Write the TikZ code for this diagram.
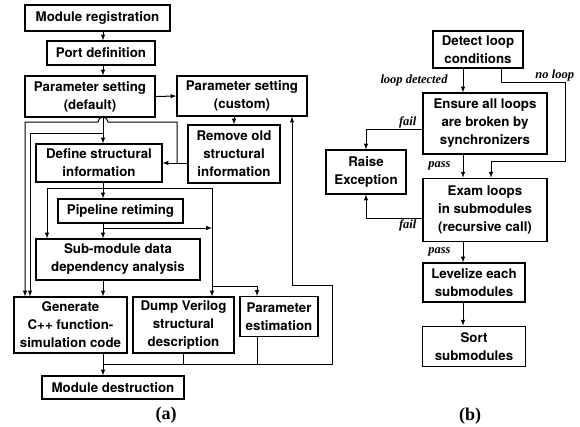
\documentclass[tikz,border=0pt]{standalone}
\usepackage{fontspec}
\usepackage{tikz}
\usetikzlibrary{positioning, arrows, calc}

\newfontfamily\boxfont{TeX Gyre Heros}
\newfontfamily\lblfont{Liberation Serif}

\begin{document}
\begin{tikzpicture}[x=1pt, y=-1pt, >=latex, line width=1pt,
    blk/.style={draw, line width=1.2pt, align=center, inner sep=0pt,
        font=\boxfont\bfseries\fontsize{13.3}{18}\selectfont},
    tag/.style={inner sep=1pt, font=\lblfont\bfseries\itshape\fontsize{12.5}{14}\selectfont},
    sublbl/.style={font=\lblfont\bfseries\fontsize{18}{20}\selectfont}]
        \useasboundingbox (0,0) rectangle (580,426);

        % (a) module flow
        \node[blk, minimum width=145pt, minimum height=26pt] (reg) at (97.5,18) {Module registration};
        \node[blk, minimum width=108pt, minimum height=24pt] (port) at (101,53) {Port definition};
        \node[blk, minimum width=130pt, minimum height=41pt] (pdef) at (90,96.5) {Parameter setting\\(default)};
        \node[blk, minimum width=130pt, minimum height=40pt] (pcus) at (242,96) {Parameter setting\\(custom)};
        \node[blk, minimum width=92pt, minimum height=58pt] (rmv) at (234,154) {Remove old\\structural\\information};
        \node[blk, minimum width=126pt, minimum height=38pt] (def) at (99,163) {Define structural\\information};
        \node[blk, minimum width=125pt, minimum height=24pt] (pipe) at (120.5,211) {Pipeline retiming};
        \node[blk, minimum width=164pt, minimum height=41pt] (sub) at (118,259.5) {Sub-module data\\dependency analysis};
        \node[blk, minimum width=113pt, minimum height=56pt] (gen) at (70.5,325) {Generate\\C++ function-\\simulation code};
        \node[blk, minimum width=101pt, minimum height=56pt] (dump) at (183.5,325) {Dump Verilog\\structural\\description};
        \node[blk, minimum width=78pt, minimum height=40pt] (pest) at (279,316.5) {Parameter\\estimation};
        \node[blk, minimum width=142pt, minimum height=23pt] (dest) at (113,387.5) {Module destruction};
        \node[sublbl] (capa) at (166,415) {(a)};

        % columns and rows the connectors run along
        \coordinate (spine) at (103,0);
        \coordinate (xo) at (25,0);
        \coordinate (xi) at (30,0);
        \coordinate (xs) at (47,0);
        \coordinate (xr) at (177,0);
        \coordinate (bus) at (212,0);
        \coordinate (xp) at (257,0);
        \coordinate (xf) at (292,0);
        \coordinate (yh) at (0,122);
        \coordinate (yi) at (0,133);
        \coordinate (yb) at (0,364);
        \coordinate (j1) at (103,188);
        \coordinate (j2) at (103,228);
        \coordinate (j3) at (212,286);
        \coordinate (fb) at (332,285);

        \path[->]
        (reg.south -| spine) edge (port.north -| spine)
        (port.south -| spine) edge (pdef.north -| spine)
        (pdef.south -| spine) edge (def.north -| spine)
        (def.south -| spine) edge (pipe.north -| spine)
        (pipe.south -| spine) edge (sub.north -| spine)
        (sub.south -| spine) edge (gen.north -| spine)
        (gen.south -| spine) edge (dest.north -| spine)
        (pdef.east) edge (pcus.west)
        (rmv.north |- pcus.south) edge (rmv.north)
        (rmv.west |- def.east) edge (def.east);

        \draw[->] (xr |- def.east) -- (xr |- yh) -- ($(spine |- yh)+(5,0)$)
              arc[start angle=0, end angle=180, radius=5pt] -- (xo |- yh) -- (xo |- gen.north);
        \draw[->] (spine |- yi) -- (xi |- yi) -- (xi |- gen.north);
        \draw[->] (j1) -| (xs |- sub.north);
        \draw[->] (j1) -| (bus |- dump.north);
        \draw[->] (j2) -- (bus |- j2);
        \draw[->] (j3) -| (xp |- pest.north);
        \draw (dump.south) -- (dump.south |- yb);
        \draw (xp |- pest.south) -- (xp |- yb);
        \draw[->] (spine |- yb) -| (fb) -- (xf |- fb) -- (xf |- pcus.south);

        % (b) loop checking
        \node[blk, minimum width=90pt, minimum height=37pt] (det) at (478,49.5) {Detect loop\\conditions};
        \node[blk, minimum width=124pt, minimum height=61pt] (ens) at (485,123.5) {Ensure all loops\\are broken by\\synchronizers};
        \node[blk, minimum width=80pt, minimum height=44pt] (rai) at (366,172) {Raise\\Exception};
        \node[blk, minimum width=124pt, minimum height=63pt] (exam) [below=23pt of ens] {Exam loops\\in submodules\\(recursive call)};
        \node[blk, minimum width=102pt, minimum height=39pt] (lev) at (474,282.5) {Levelize each\\submodules};
        \node[blk, minimum width=103pt, minimum height=40pt] (sort) [below=23pt of lev] {Sort\\submodules};
        \node[sublbl] (capb) at (470,416) {(b)};

        \coordinate (rspine) at (463,0);
        \coordinate (xn) at (501,0);
        \coordinate (xe) at (491,0);
        \coordinate (nl) at (565,161);

        \draw[->] (rspine |- det.south) -- node[tag, left=14pt] {loop detected} (rspine |- ens.north);
        \draw[->] (xn |- det.south) -- ++(0,14) -| node[tag, above, pos=0.42] {no loop} (nl) -| (xe |- exam.north);
        \draw[->] ([yshift=-6pt]ens.west) -| node[tag, above, pos=0.13] {fail} (rai.north);
        \draw[->] (rspine |- ens.south) -- node[tag, left=11pt] {pass} (rspine |- exam.north);
        \draw[->] ([yshift=-8.5pt]exam.west) -| node[tag, below, pos=0.13] {fail} (rai.south);
        \draw[->] (rspine |- exam.south) -- node[tag, left=11pt] {pass} (rspine |- lev.north);
        \draw[->] (rspine |- lev.south) -- (rspine |- sort.north);
\end{tikzpicture}
\end{document}
